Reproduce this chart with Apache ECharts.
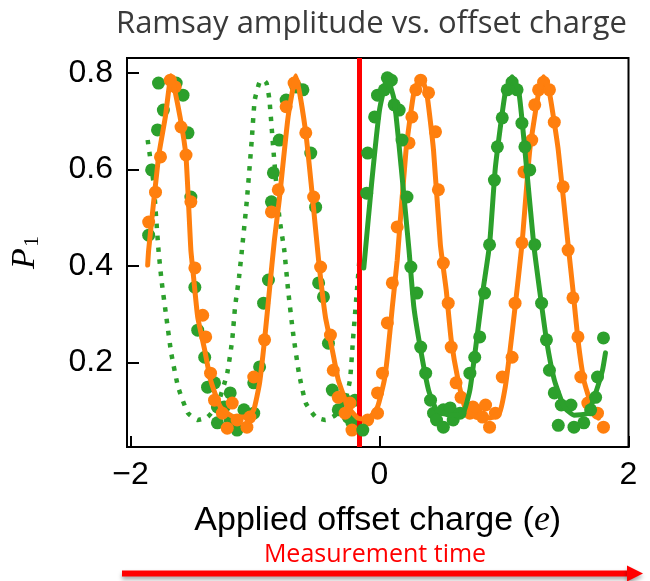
<!DOCTYPE html>
<html>
<head>
<meta charset="utf-8">
<script src="https://cdn.jsdelivr.net/npm/echarts@6/dist/echarts.min.js"></script>
<style>
  html, body { margin: 0; padding: 0; background: #ffffff; }
  #chart { width: 650px; height: 581px; }
</style>
</head>
<body>
<div id="chart"></div>
<script>
// Ramsey amplitude P1 versus applied offset charge (units of e)

const xTicks = [-2, 0, 2];
const yTicks = [0.2, 0.4, 0.6, 0.8];

// offset charge where the measurement jumps (red marker)
const jumpCharge = -0.158;

// orange sweep: measured points
const orangePoints = [
  [-1.680, 0.785], [-1.641, 0.771], [-1.759, 0.626], [-1.799, 0.553], [-1.854, 0.491],
  [-1.594, 0.688], [-1.554, 0.630], [-1.515, 0.533], [-0.686, 0.779], [-0.750, 0.730],
  [-0.592, 0.676], [-0.813, 0.558], [-0.529, 0.543], [-0.868, 0.512],
  [-1.483, 0.396], [-1.420, 0.298], [-1.396, 0.253], [-1.357, 0.178], [-1.325, 0.122],
  [-1.262, 0.095], [-1.223, 0.064], [-1.183, 0.116], [-1.144, 0.081], [-1.065, 0.066],
  [-1.041, 0.087], [-1.010, 0.170], [-0.923, 0.247], [-0.473, 0.398], [-0.394, 0.257],
  [-0.371, 0.184], [-0.331, 0.128], [-0.276, 0.095], [-0.237, 0.116], [-0.221, 0.060],
  [-0.095, 0.081], [-0.016, 0.095], [-0.016, 0.137], [0.024, 0.178], [0.063, 0.282],
  [0.103, 0.365], [0.513, 0.406], [0.552, 0.323], [0.576, 0.232], [0.615, 0.158],
  [0.655, 0.128], [0.726, 0.095], [0.773, 0.102], [0.828, 0.087], [0.884, 0.066],
  [0.931, 0.095], [0.986, 0.170], [1.065, 0.211], [1.089, 0.323], [1.144, 0.448],
  [0.750, 0.108], [0.852, 0.112],
  [1.515, 0.433], [1.554, 0.334], [1.594, 0.253], [1.617, 0.170], [1.673, 0.116],
  [1.751, 0.095], [1.799, 0.066],
  [0.331, 0.785], [0.292, 0.765], [0.394, 0.759], [0.260, 0.709], [0.450, 0.678],
  [0.237, 0.655], [0.473, 0.558], [0.142, 0.481],
  [1.318, 0.781], [1.278, 0.765], [1.365, 0.765], [1.247, 0.734], [1.404, 0.698],
  [1.223, 0.661], [1.160, 0.595], [1.475, 0.564]
];

// orange sweep: fitted curve
const orangeFit = [
  [-1.862, 0.402], [-1.854, 0.433], [-1.775, 0.626], [-1.720, 0.709], [-1.673, 0.794],
  [-1.602, 0.709], [-1.554, 0.626], [-1.515, 0.433], [-1.499, 0.392], [-1.460, 0.294],
  [-1.404, 0.226], [-1.357, 0.164], [-1.278, 0.108], [-1.168, 0.087], [-1.065, 0.087],
  [-1.010, 0.102], [-0.963, 0.158], [-0.923, 0.247], [-0.884, 0.350], [-0.844, 0.454],
  [-0.805, 0.537], [-0.734, 0.709], [-0.671, 0.794], [-0.592, 0.676], [-0.536, 0.537],
  [-0.489, 0.412], [-0.434, 0.294], [-0.379, 0.226], [-0.331, 0.164], [-0.252, 0.108],
  [-0.174, 0.085], [-0.095, 0.083], [-0.016, 0.108], [0.039, 0.164], [0.063, 0.211],
  [0.103, 0.315], [0.142, 0.412], [0.213, 0.640], [0.276, 0.759], [0.331, 0.792],
  [0.379, 0.759], [0.434, 0.640], [0.489, 0.444], [0.536, 0.350], [0.576, 0.247],
  [0.631, 0.164], [0.694, 0.102], [0.773, 0.087], [0.884, 0.085], [0.963, 0.095],
  [1.010, 0.149], [1.049, 0.226], [1.089, 0.315], [1.144, 0.444], [1.207, 0.640],
  [1.278, 0.759], [1.318, 0.792], [1.365, 0.759], [1.436, 0.640], [1.515, 0.444],
  [1.554, 0.350], [1.594, 0.247], [1.641, 0.164], [1.696, 0.116], [1.759, 0.085]
];

// green sweep before the jump: measured points
const greenBeforePoints = [
  [-1.775, 0.779], [-1.633, 0.779], [-1.578, 0.754], [-1.736, 0.723], [-1.783, 0.682],
  [-1.538, 0.676], [-1.830, 0.599], [-1.515, 0.543], [-1.854, 0.464],
  [-0.671, 0.771], [-0.615, 0.765], [-0.750, 0.744], [-0.805, 0.661], [-0.552, 0.634],
  [-0.852, 0.593], [-0.513, 0.522], [-0.868, 0.533],
  [-1.483, 0.356], [-1.460, 0.267], [-1.404, 0.211], [-1.381, 0.149], [-1.325, 0.158],
  [-1.302, 0.108], [-1.302, 0.075], [-1.247, 0.108], [-1.199, 0.137], [-1.144, 0.060],
  [-1.199, 0.081], [-1.089, 0.102], [-1.010, 0.095], [-1.010, 0.158], [-0.963, 0.191],
  [-0.931, 0.323], [-0.892, 0.371],
  [-0.489, 0.365], [-0.450, 0.336], [-0.410, 0.240], [-0.379, 0.143], [-0.331, 0.102],
  [-0.276, 0.122], [-0.252, 0.087], [-0.221, 0.075], [-0.197, 0.066], [-0.197, 0.122]
];

// green sweep before the jump: expected curve (dotted)
const greenBeforeFit = [
  [-1.862, 0.661], [-1.815, 0.572], [-1.775, 0.433], [-1.751, 0.371], [-1.712, 0.294],
  [-1.673, 0.220], [-1.617, 0.149], [-1.538, 0.095], [-1.460, 0.081], [-1.381, 0.087],
  [-1.302, 0.112], [-1.223, 0.178], [-1.183, 0.247], [-1.160, 0.315], [-1.128, 0.377],
  [-1.105, 0.433], [-1.065, 0.537], [-1.026, 0.661], [-1.002, 0.744], [-0.963, 0.781],
  [-0.931, 0.785], [-0.907, 0.779], [-0.884, 0.744], [-0.852, 0.640], [-0.805, 0.502],
  [-0.765, 0.433], [-0.734, 0.350], [-0.694, 0.261], [-0.647, 0.178], [-0.592, 0.116],
  [-0.513, 0.087], [-0.434, 0.081], [-0.355, 0.091], [-0.276, 0.122], [-0.237, 0.164],
  [-0.213, 0.247], [-0.181, 0.350], [-0.158, 0.423]
];

// green sweep after the jump: measured points
const greenAfterPoints = [
  [-0.095, 0.634], [-0.103, 0.551], [0.063, 0.790], [0.095, 0.785], [-0.016, 0.754],
  [0.039, 0.765], [0.118, 0.734], [0.158, 0.723], [-0.039, 0.709], [0.181, 0.661],
  [0.221, 0.543], [-0.134, 0.060],
  [1.065, 0.781], [1.026, 0.765], [1.105, 0.765], [0.986, 0.707], [1.144, 0.696],
  [0.947, 0.647], [1.168, 0.647], [0.923, 0.578], [1.207, 0.599], [0.884, 0.444],
  [1.247, 0.444],
  [0.252, 0.398], [0.300, 0.344], [0.331, 0.232], [0.371, 0.178], [0.410, 0.122],
  [0.434, 0.095], [0.458, 0.081], [0.513, 0.102], [0.513, 0.066], [0.568, 0.106],
  [0.592, 0.081], [0.647, 0.095], [0.726, 0.178], [0.765, 0.211], [0.805, 0.253],
  [0.844, 0.344],
  [1.302, 0.323], [1.341, 0.247], [1.365, 0.184], [1.404, 0.137], [1.460, 0.112],
  [1.538, 0.112], [1.436, 0.070], [1.562, 0.066], [1.641, 0.075], [1.696, 0.102],
  [1.736, 0.128], [1.751, 0.170], [1.799, 0.251]
];

// green sweep after the jump: fitted curve
const greenAfterFit = [
  [-0.126, 0.396], [-0.063, 0.572], [0.000, 0.723], [0.063, 0.790], [0.118, 0.744],
  [0.174, 0.605], [0.237, 0.433], [0.276, 0.315], [0.331, 0.226], [0.394, 0.143],
  [0.458, 0.102], [0.568, 0.091], [0.671, 0.095], [0.726, 0.143], [0.773, 0.232],
  [0.828, 0.344], [0.884, 0.444], [0.931, 0.605], [1.010, 0.759], [1.065, 0.792],
  [1.120, 0.759], [1.168, 0.640], [1.239, 0.444], [1.286, 0.350], [1.341, 0.247],
  [1.404, 0.164], [1.483, 0.108], [1.562, 0.091], [1.673, 0.095], [1.736, 0.137],
  [1.791, 0.184], [1.815, 0.220]
];

const ORANGE = '#ff7f0e';
const GREEN = '#2ca02c';
const RED = '#ff0000';
const tickFont = 'Liberation Sans, Arial, sans-serif';
const serif = 'Liberation Serif, DejaVu Serif, serif';
const slideFont = '"Open Sans", Lato, sans-serif';

const chart = echarts.init(document.getElementById('chart'), null, { renderer: 'canvas' });

const dots = (name, data, color, z) => ({
  name, type: 'scatter', data, z,
  symbol: 'circle', symbolSize: 13,
  itemStyle: { color, opacity: 1 },
  silent: true
});
const curve = (name, data, color, z, type) => ({
  name, type: 'line', data, z,
  showSymbol: false, smooth: 0.15,
  lineStyle: type === 'dotted'
    ? { color, width: 4.5, type: [4.5, 7.5], cap: 'butt' }
    : { color, width: 5, cap: 'round', join: 'round' },
  silent: true
});

chart.setOption({
  animation: false,
  backgroundColor: '#ffffff',
  title: {
    text: 'Ramsay amplitude vs. offset charge',
    left: 111, top: 4,
    textStyle: { fontFamily: slideFont, fontSize: 31, fontWeight: 'normal', color: '#3a3a3a' }
  },
  grid: {
    left: 118, right: 21.5, top: 58, bottom: 134,
    show: true, borderColor: '#000', borderWidth: 2, backgroundColor: 'transparent'
  },
  xAxis: {
    type: 'value', min: -2.028, max: 2,
    axisLine: { show: true, onZero: false, lineStyle: { color: '#000', width: 2 } },
    splitLine: { show: false },
    axisTick: { show: true, inside: true, length: 11, customValues: xTicks, lineStyle: { color: '#000', width: 2 } },
    axisLabel: {
      customValues: xTicks, margin: 12,
      fontFamily: tickFont, fontSize: 32, color: '#000',
      formatter: v => (v < 0 ? '\u2212' + Math.abs(v) : String(v))
    },
    name: '{t|Applied offset charge (}{e|e}{t|)}',
    nameLocation: 'middle', nameGap: 56,
    nameTextStyle: {
      rich: {
        t: { fontFamily: tickFont, fontSize: 34, color: '#000' },
        e: { fontFamily: serif, fontStyle: 'italic', fontSize: 36, color: '#000' }
      }
    }
  },
  yAxis: {
    type: 'value', min: 0.025, max: 0.831,
    axisLine: { show: true, onZero: false, lineStyle: { color: '#000', width: 2 } },
    splitLine: { show: false },
    axisTick: { show: true, inside: true, length: 12, customValues: yTicks, lineStyle: { color: '#000', width: 2 } },
    axisLabel: {
      customValues: yTicks, margin: 14,
      fontFamily: tickFont, fontSize: 32, color: '#000',
      formatter: v => v.toFixed(1)
    },
    name: '{p|P}{s|1}',
    nameLocation: 'middle', nameGap: 84, nameRotate: 90,
    nameTextStyle: {
      rich: {
        p: { fontFamily: serif, fontStyle: 'italic', fontSize: 34, color: '#000' },
        s: { fontFamily: serif, fontSize: 22, color: '#000', padding: [14, 0, 0, 1] }
      }
    }
  },
  series: [
    dots('green before', greenBeforePoints, GREEN, 2),
    curve('green before fit', greenBeforeFit, GREEN, 3, 'dotted'),
    dots('orange', orangePoints, ORANGE, 4),
    curve('orange fit', orangeFit, ORANGE, 5),
    dots('green after', greenAfterPoints, GREEN, 6),
    curve('green after fit', greenAfterFit, GREEN, 7),
    {
      name: 'jump', type: 'line', data: [], z: 10,
      markLine: {
        silent: true, symbol: ['none', 'none'], animation: false,
        label: { show: false },
        lineStyle: { color: RED, width: 5, type: 'solid' },
        data: [{ xAxis: jumpCharge }]
      }
    }
  ],
  graphic: [
    {
      type: 'text', x: 375, y: 555, z: 20,
      style: { text: 'Measurement time', fill: RED, font: '25px ' + slideFont, align: 'center', verticalAlign: 'middle' }
    },
    {
      type: 'group', z: 20,
      children: [
        {
          type: 'line',
          shape: { x1: 122, y1: 573.5, x2: 630, y2: 573.5 },
          style: { stroke: RED, lineWidth: 6, shadowBlur: 4, shadowOffsetY: 3, shadowColor: 'rgba(0,0,0,0.35)' }
        },
        {
          type: 'polygon',
          shape: { points: [[627, 565.5], [643, 573.5], [627, 581.5]] },
          style: { fill: RED, shadowBlur: 4, shadowOffsetY: 3, shadowColor: 'rgba(0,0,0,0.35)' }
        }
      ]
    }
  ]
});
</script>
</body>
</html>
